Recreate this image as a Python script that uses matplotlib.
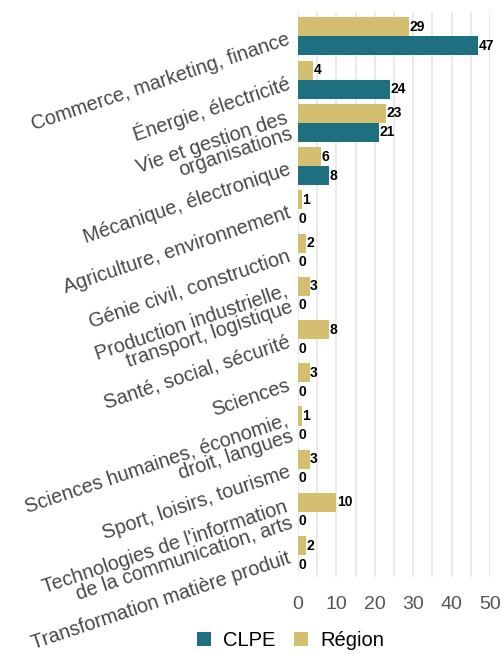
import numpy as np
import matplotlib.pyplot as plt

plt.rcParams['font.family'] = ['Liberation Sans', 'DejaVu Sans']

categories = [
    "Commerce, marketing, finance",
    "Énergie, électricité",
    "Vie et gestion des\norganisations",
    "Mécanique, électronique",
    "Agriculture, environnement",
    "Génie civil, construction",
    "Production industrielle,\ntransport, logistique",
    "Santé, social, sécurité",
    "Sciences",
    "Sciences humaines, économie,\ndroit, langues",
    "Sport, loisirs, tourisme",
    "Technologies de l'information\nde la communication, arts",
    "Transformation matière produit",
]
region = [29, 4, 23, 6, 1, 2, 3, 8, 3, 1, 3, 10, 2]
clpe = [47, 24, 21, 8, 0, 0, 0, 0, 0, 0, 0, 0, 0]

teal = '#1e6f80'
gold = '#d3bf6f'

fig = plt.figure(figsize=(5.01, 6.54), dpi=100)
ax = fig.add_axes([0.595, 0.118, 0.383, 0.864])

y = np.arange(len(categories))
h = 0.44
b1 = ax.barh(y - h / 2, region, height=h, color=gold, label='Région', zorder=2)
b2 = ax.barh(y + h / 2, clpe, height=h, color=teal, label='CLPE', zorder=2)

for bars, vals in [(b1, region), (b2, clpe)]:
    for bar, v in zip(bars, vals):
        ax.text(bar.get_width() + 0.15, bar.get_y() + bar.get_height() / 2, str(v),
                ha='left', va='center', fontsize=10, fontweight='bold', color='black')

ax.set_ylim(len(categories) - 0.5, -0.57)
ax.set_xlim(0, 50)
ax.set_xticks(np.arange(0, 51, 10))
ax.set_xticks(np.arange(0, 51, 5), minor=True)
ax.grid(axis='x', which='both', color='#e6e6e6', linewidth=1.2, zorder=0)
ax.tick_params(axis='x', which='both', length=0, labelsize=14, labelcolor='#555555', pad=14)
ax.tick_params(axis='y', length=0, pad=6)
ax.set_yticks(y + 0.06)
ax.set_yticklabels(categories, rotation=18.5, ha='right', va='center',
                   rotation_mode='anchor', fontsize=14.3, color='#484848',
                   multialignment='right', linespacing=0.85)
for s in ax.spines.values():
    s.set_visible(False)

handles = [b2, b1]
fig.legend(handles, ['CLPE', 'Région'], loc='center', bbox_to_anchor=(0.58, 0.02),
           ncol=2, frameon=False, fontsize=14.5, handlelength=0.7, handleheight=0.7,
           columnspacing=0.9, handletextpad=0.6)

plt.savefig('out.png', dpi=100)
